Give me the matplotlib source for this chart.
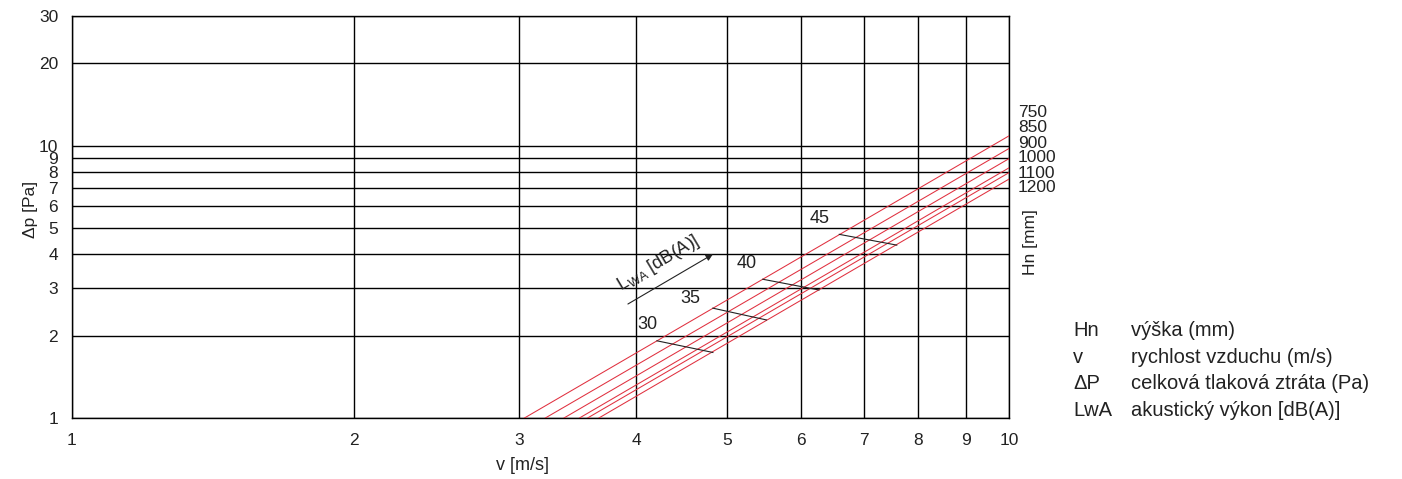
import matplotlib.pyplot as plt
from matplotlib.ticker import FixedLocator, NullLocator

plt.rcParams["font.family"] = ["Liberation Sans", "DejaVu Sans"]

# Hn curves: v where dp = 1 Pa, and dp reached at v = 10 m/s
hn_labels = ["750", "850", "900", "1000", "1100", "1200"]
hn_v_at_1pa = [3.04, 3.20, 3.35, 3.48, 3.55, 3.65]
hn_dp_at_10 = [10.85, 9.75, 8.95, 8.28, 7.95, 7.53]
hn_label_dp = [13.2, 11.6, 10.17, 9.0, 7.89, 6.99]

# LwA sound power marks (segments across the Hn curves)
lwa_labels = ["30", "35", "40", "45"]
lwa_v0 = [4.21, 4.83, 5.46, 6.59]
lwa_dp0 = [1.92, 2.53, 3.23, 4.72]
lwa_v1 = [4.83, 5.51, 6.27, 7.59]
lwa_dp1 = [1.74, 2.29, 2.95, 4.31]
lwa_text_v = [4.11, 4.57, 5.25, 6.28]
lwa_text_dp = [2.21, 2.75, 3.69, 5.40]

x_ticks = [1, 2, 3, 4, 5, 6, 7, 8, 9, 10]
y_ticks = [1, 2, 3, 4, 5, 6, 7, 8, 9, 10, 20, 30]

legend_keys = ["Hn", "v", "ΔP", "LwA"]
legend_desc = ["výška (mm)", "rychlost vzduchu (m/s)",
               "celková tlaková ztráta (Pa)", "akustický výkon [dB(A)]"]

fig = plt.figure(figsize=(14.02, 4.79), dpi=100)
# 272.7 px per decade on y, 937 px per decade on x
ax = fig.add_axes([72 / 1402, 61 / 479, 937 / 1402, 402.5 / 479])
ax.set_xscale("log")
ax.set_yscale("log")
ax.set_xlim(1, 10)
ax.set_ylim(1, 30)

ax.xaxis.set_major_locator(FixedLocator(x_ticks))
ax.yaxis.set_major_locator(FixedLocator(y_ticks))
ax.xaxis.set_minor_locator(NullLocator())
ax.yaxis.set_minor_locator(NullLocator())
ax.set_xticklabels([str(t) for t in x_ticks])
ax.set_yticklabels([str(t) for t in y_ticks])
ax.tick_params(length=0, labelsize=12.5, colors="#222222")
ax.tick_params(axis="x", pad=11)
ax.tick_params(axis="y", pad=10)
ax.grid(True, color="black", lw=1.0)
for s in ax.spines.values():
    s.set_linewidth(1.0)

# red Hn lines
for v0, dp10 in zip(hn_v_at_1pa, hn_dp_at_10):
    ax.plot([v0, 10], [1, dp10], color="#e0303f", lw=0.75, zorder=3)

tr = ax.get_yaxis_transform()
for lbl, dp in zip(hn_labels, hn_label_dp):
    ax.text(1.0096, dp, lbl, transform=tr, ha="left", va="center",
            fontsize=12.5, color="#222222", clip_on=False)

# LwA segments and labels
for lbl, v0, d0, v1, d1, tv, td in zip(lwa_labels, lwa_v0, lwa_dp0, lwa_v1,
                                       lwa_dp1, lwa_text_v, lwa_text_dp):
    ax.plot([v0, v1], [d0, d1], color="#222222", lw=0.8, zorder=4)
    ax.text(tv, td, lbl, ha="center", va="center", fontsize=13,
            color="#222222", zorder=5)

# LwA arrow + label
ax.annotate("", xy=(4.83, 3.99), xytext=(3.92, 2.62),
            arrowprops=dict(arrowstyle="-|>", color="#222222", lw=0.8,
                            mutation_scale=10, shrinkA=0, shrinkB=0))
ax.text(3.88, 2.80, r"L$_{\mathregular{WA}}$ [dB(A)]", rotation=30.8,
        rotation_mode="anchor", ha="left", va="bottom", fontsize=13,
        color="#222222")

fig.text(30 / 1402, 1 - 209 / 479, "Δp [Pa]", rotation=90, ha="center",
         va="center", fontsize=12.5, color="#222222")
fig.text(523 / 1402, 1 - 466 / 479, "v [m/s]", ha="center", va="center",
         fontsize=13, color="#222222")
fig.text(1031 / 1402, 1 - 242 / 479, "Hn [mm]", rotation=90, ha="center",
         va="center", fontsize=12.5, color="#222222")

rows_y = [336, 363, 389, 416]
for key, desc, yb in zip(legend_keys, legend_desc, rows_y):
    fig.text(1073 / 1402, 1 - yb / 479, key, ha="left", va="baseline",
             fontsize=14.5, color="#222222")
    fig.text(1131 / 1402, 1 - yb / 479, desc, ha="left", va="baseline",
             fontsize=14.5, color="#222222")

fig.savefig("out.png", dpi=100, facecolor="white")
